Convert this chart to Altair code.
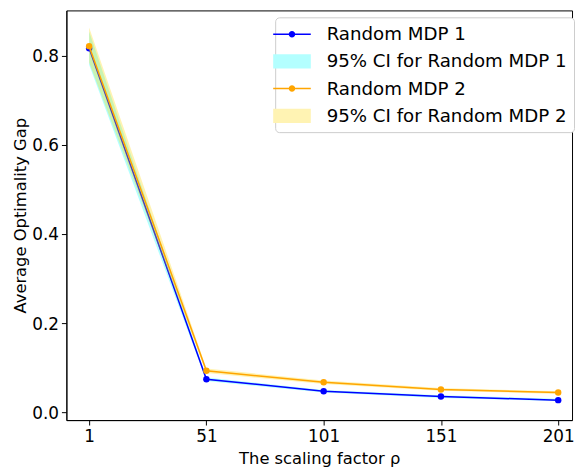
import altair as alt
import pandas as pd

# ---- data ----
x_vals = [1, 51, 101, 151, 201]
mdp1 = [0.817, 0.074, 0.047, 0.035, 0.027]
mdp1_lo = [0.780, 0.070, 0.044, 0.032, 0.025]
mdp1_hi = [0.855, 0.078, 0.050, 0.038, 0.030]
mdp2 = [0.822, 0.093, 0.067, 0.051, 0.044]
mdp2_lo = [0.785, 0.088, 0.063, 0.048, 0.041]
mdp2_hi = [0.864, 0.098, 0.071, 0.054, 0.047]

series_names = ["Random MDP 1", "Random MDP 2"]
line_colors = ["#0000ff", "#ffa500"]
band_colors = ["cyan", "gold"]
legend_labels = ["Random MDP 1", "95% CI for Random MDP 1",
                 "Random MDP 2", "95% CI for Random MDP 2"]
legend_colors = ["#0000ff", "#b3ffff", "#ffa500", "#fff3b3"]
y_ticks = [0.0, 0.2, 0.4, 0.6, 0.8]

line_shape = ("M-1.9,-0.075L1.9,-0.075L1.9,0.075L-1.9,0.075Z "
              "M0.33,0A0.33,0.33 0 1,1 -0.33,0A0.33,0.33 0 1,1 0.33,0Z")
rect_shape = "M-1.9,-0.72L1.9,-0.72L1.9,0.72L-1.9,0.72Z"
legend_shapes = [line_shape, rect_shape, line_shape, rect_shape]

rows = []
for name, ys_, lo_, hi_ in [(series_names[0], mdp1, mdp1_lo, mdp1_hi),
                            (series_names[1], mdp2, mdp2_lo, mdp2_hi)]:
    for xv, yv, l, h in zip(x_vals, ys_, lo_, hi_):
        rows.append({"series": name, "x": xv, "y": yv, "lo": l, "hi": h})
df = pd.DataFrame(rows)

legend_df = pd.DataFrame({"label": legend_labels,
                          "x": [x_vals[0]] * 4,
                          "y": [mdp1[0]] * 4})

xscale = alt.Scale(domain=[-8.7, 206.9], nice=False, zero=False)
yscale = alt.Scale(domain=[-0.0178, 0.9022], nice=False, zero=False)
xaxis = alt.Axis(values=x_vals, title="The scaling factor ρ",
                 labelPadding=4, titlePadding=6)
yaxis = alt.Axis(values=y_ticks, format=".1f", title="Average Optimality Gap",
                 labelPadding=3, titlePadding=3, labelOffset=1)


def X(f):
    return alt.X(f, type="quantitative", scale=xscale, axis=xaxis)


def Y(f):
    return alt.Y(f, type="quantitative", scale=yscale, axis=yaxis)


layers = []
for name, lc, bc in zip(series_names, line_colors, band_colors):
    sub = alt.Chart(df).transform_filter(alt.datum.series == name)
    band = sub.mark_area(color=bc, opacity=0.3).encode(
        x=X("x"), y=Y("lo"), y2="hi:Q")
    line = sub.mark_line(color=lc, strokeWidth=1.5).encode(x=X("x"), y=Y("y"))
    pts = sub.mark_point(color=lc, filled=True, size=42, opacity=1).encode(
        x=X("x"), y=Y("y"))
    layers += [band, line, pts]

leg = alt.Legend(title=None, orient="none", legendX=211, legendY=7,
                 padding=7, symbolSize=400, symbolStrokeWidth=0,
                 symbolOpacity=1, labelOffset=25, labelFontSize=18.4,
                 labelFont="DejaVu Sans", labelColor="black", labelLimit=0,
                 rowPadding=7.5, strokeColor="#cccccc", fillColor="white",
                 cornerRadius=4)

legend_layer = alt.Chart(legend_df).mark_point(filled=True, opacity=0).encode(
    x=X("x"), y=Y("y"),
    color=alt.Color("label:N", scale=alt.Scale(domain=legend_labels,
                                               range=legend_colors), legend=leg),
    shape=alt.Shape("label:N", scale=alt.Scale(domain=legend_labels,
                                               range=legend_shapes), legend=leg),
)

chart = alt.layer(*layers, legend_layer).properties(
    width=511, height=414,
    autosize=alt.AutoSizeParams(type="none"),
    padding={"left": 59, "top": 0, "right": 3, "bottom": 48},
).configure_view(stroke="black", strokeWidth=1).configure_axis(
    grid=False, domainColor="black", tickColor="black", labelColor="black",
    titleColor="black", labelFont="DejaVu Sans", titleFont="DejaVu Sans",
    labelFontSize=17, titleFontSize=16.5, titleFontWeight="normal", tickSize=5,
)

chart.save("out.html", embed_options={"renderer": "svg", "actions": False})
